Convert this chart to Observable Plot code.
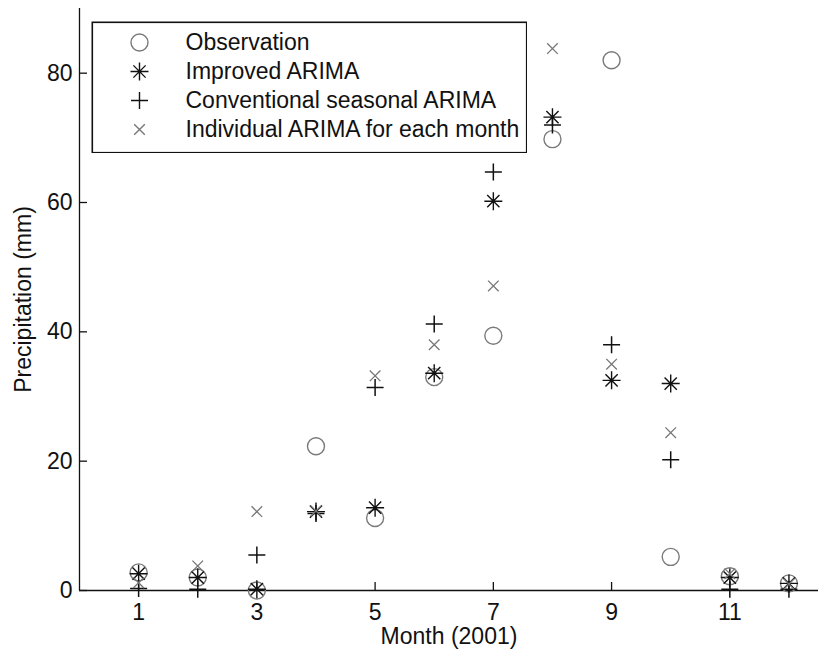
<!DOCTYPE html>
<html><head><meta charset="utf-8">
<script src="https://cdn.jsdelivr.net/npm/d3@7"></script>
<script src="https://cdn.jsdelivr.net/npm/@observablehq/plot@0.6"></script>
<style>
body{margin:0;background:#fff;}
#wrap{position:relative;width:818px;height:657px;}
#legend{position:absolute;left:91px;top:21px;}
</style></head><body><div id="wrap"><div id="main"></div><div id="legend"></div></div>
<script>
const months = [1, 2, 3, 4, 5, 6, 7, 8, 9, 10, 11, 12];
const observation  = [2.8, 2.0, 0.0, 22.3, 11.2, 33.0, 39.4, 69.8, 82.0, 5.2, 2.2, 1.1];
const improved     = [2.6, 2.0, 0.2, 12.2, 12.8, 33.6, 60.2, 73.2, 32.5, 32.0, 2.0, 1.1];
const conventional = [0.3, 0.2, 5.5, 11.9, 31.4, 41.2, 64.7, 72.0, 38.0, 20.2, 0.2, 0.2];
const individual   = [1.2, 3.8, 12.2, 12.3, 33.2, 38.0, 47.1, 83.8, 35.0, 24.4, 2.6, 1.0];
const seriesNames = ["Observation", "Improved ARIMA", "Conventional seasonal ARIMA", "Individual ARIMA for each month"];
const xTicks = [1, 3, 5, 7, 9, 11];
const yTicks = [0, 20, 40, 60, 80];
const xLabel = "Month (2001)";
const yLabel = "Precipitation (mm)";

const font = "'Liberation Sans', Arial, sans-serif";

// custom stroke symbols (MATLAB-like markers)
const radius = (size) => Math.sqrt(size / Math.PI);
const symPlus = {draw(c, s) { const r = radius(s); c.moveTo(-r, 0); c.lineTo(r, 0); c.moveTo(0, -r); c.lineTo(0, r); }};
const symTimes = {draw(c, s) { const r = radius(s) * 0.7071; c.moveTo(-r, -r); c.lineTo(r, r); c.moveTo(-r, r); c.lineTo(r, -r); }};
const symAsterisk = {draw(c, s) { const r = radius(s); const d = r * 0.68; c.moveTo(-r, 0); c.lineTo(r, 0); c.moveTo(0, -r); c.lineTo(0, r); c.moveTo(-d, -d); c.lineTo(d, d); c.moveTo(-d, d); c.lineTo(d, -d); }};
const symCircle = {draw(c, s) { const r = radius(s); c.moveTo(r, 0); c.arc(0, 0, r, 0, 2 * Math.PI); }};

const styles = [
  {symbol: symCircle, r: 8.5, stroke: "#7a7a7a", strokeWidth: 1.4},
  {symbol: symAsterisk, r: 9, stroke: "#111", strokeWidth: 1.4},
  {symbol: symPlus, r: 8.5, stroke: "#111", strokeWidth: 1.5},
  {symbol: symTimes, r: 7.5, stroke: "#777", strokeWidth: 1.3}
];
const seriesValues = [observation, improved, conventional, individual];

const dotMarks = seriesValues.map((vals, i) =>
  Plot.dot(months, {x: (d) => d, y: (d, j) => vals[j], fill: "none", ...styles[i]})
);

const main = Plot.plot({
  width: 818, height: 657,
  marginLeft: 79, marginRight: 0, marginTop: 8, marginBottom: 67,
  x: {domain: [0, 12.5]},
  y: {domain: [0, 90]},
  style: {fontFamily: font, fontSize: "23px", color: "#111", background: "white", overflow: "visible"},
  marks: [
    Plot.ruleX([0], {stroke: "#111", strokeWidth: 1.3}),
    Plot.ruleY([0], {stroke: "#111", strokeWidth: 1.3}),
    Plot.axisX({ticks: xTicks, tickSize: -8, tickPadding: 21, label: null, tickFormat: (d) => d, stroke: "#111", strokeWidth: 1.3}),
    Plot.axisY({ticks: yTicks, tickSize: -8, tickPadding: 15, label: null, tickFormat: (d) => d, stroke: "#111", strokeWidth: 1.3}),
    Plot.text([xLabel], {frameAnchor: "bottom", dy: 53, lineAnchor: "bottom", textAnchor: "middle", text: (d) => d, fontSize: 23}),
    Plot.text([yLabel], {frameAnchor: "left", dx: -49, rotate: -90, lineAnchor: "bottom", textAnchor: "middle", text: (d) => d, fontSize: 23}),
    ...dotMarks
  ]
});
document.getElementById("main").append(main);

const legend = Plot.plot({
  width: 436, height: 132, margin: 0,
  x: {axis: null, domain: [0, 1]},
  y: {type: "point", domain: seriesNames, range: [19.5, 109], padding: 0, axis: null},
  r: {type: "identity"},
  symbol: {domain: seriesNames, range: styles.map((s) => s.symbol)},
  color: {domain: seriesNames, range: styles.map((s) => s.stroke)},
  style: {fontFamily: font, fontSize: "23px", color: "#111", background: "white"},
  marks: [
    Plot.frame({stroke: "#111", strokeWidth: 1.6, inset: 0.8}),
    Plot.dot(seriesNames, {y: (d) => d, frameAnchor: "left", dx: 48, symbol: (d) => d, stroke: (d) => d, fill: "none",
      r: (d) => styles[seriesNames.indexOf(d)].r, strokeWidth: 1.4}),
    Plot.text(seriesNames, {y: (d) => d, frameAnchor: "left", dx: 94, textAnchor: "start", text: (d) => d, fill: "#111"})
  ]
});
document.getElementById("legend").append(legend);
</script>
</body></html>
